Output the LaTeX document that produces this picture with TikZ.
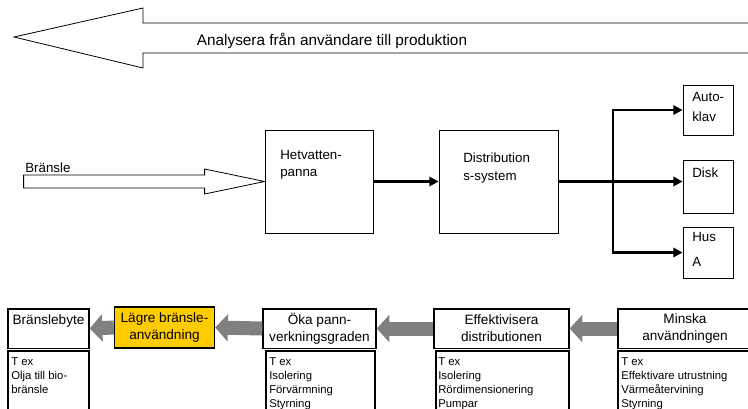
\documentclass[tikz,border=0pt]{standalone}
\usepackage{fontspec}
\setmainfont{Liberation Sans}
\usetikzlibrary{arrows.meta,fit}
\definecolor{backgray}{HTML}{808080}
\definecolor{lagreyellow}{HTML}{FFCC00}

\begin{document}
\begin{tikzpicture}[x=0.75pt,y=-0.75pt,
    box/.style={draw, line width=0.6pt, inner sep=0pt},
    stage/.style={draw, line width=1pt, inner sep=0pt, minimum height=29.5pt, align=center, font=\fontsize{10.2}{12.75}\selectfont},
    listbox/.style={draw, line width=1pt, inner sep=0pt},
    boxtext/.style={anchor=north west, inner sep=0pt, align=left, font=\fontsize{10}{13}\selectfont},
    listtext/.style={anchor=north west, inner sep=0pt, align=left, font=\fontsize{8.5}{10.5}\selectfont},
    flow/.style={line width=2.2pt, -{Triangle[length=7pt,width=7pt]}},
    back/.style={draw=backgray, line width=10.5pt, -{Triangle[length=9.5pt,width=20pt]}}]
  \useasboundingbox (0,0) rectangle (748,408);
  \clip (0,0) rectangle (748,408);
  % analysis direction
  \draw[line width=0.6pt] (14,37) -- (143,8) -- (143,23) -- (760,23) -- (760,53) -- (143,53) -- (143,68) -- cycle;
  \node[anchor=base, inner sep=0pt, font=\fontsize{11.5}{14}\selectfont] (title) at (332,45) {Analysera från användare till produktion};
  % system
  \node[box, fit={(265,130) (373,233)}] (panna) {};
  \node[box, fit={(439,130) (558,233)}] (dist) {};
  \node[box, fit={(683,85) (733,135)}] (auto) {};
  \node[box, fit={(683,160) (733,213)}] (disk) {};
  \node[box, fit={(683,227) (733,278)}] (hus) {};
  \node[boxtext] (pannatext) at (280,150) {Hetvatten-\\panna};
  \node[boxtext] (disttext) at (463,153) {Distribution\\s-system};
  \node[boxtext, font=\fontsize{10}{15}\selectfont] (autotext) at (692,92) {Auto-\\klav};
  \node[boxtext] (disktext) at (692,168) {Disk};
  \node[boxtext, font=\fontsize{10}{19}\selectfont] (hustext) at (692,232) {Hus\\A};
  % fuel in
  \draw[line width=0.6pt] (panna.west) -- ++(-60,-12.5) -- ++(0,6) -- ++(-181,0) -- ++(0,13) -- ++(181,0) -- ++(0,6) -- cycle;
  \node[anchor=base west, inner sep=0pt, font=\fontsize{10}{12}\selectfont] (fuel) at (25,172) {Bränsle};
  % flows
  \coordinate (split) at (613,0);
  \draw[flow] (panna.east) -- (dist.west);
  \draw[flow] (dist.east) -- (dist.east -| disk.west);
  \draw[flow] (dist.east -| split) |- (auto.west);
  \draw[flow] (dist.east -| split) |- (hus.west);
  % measures
  \node[stage, minimum width=60.75pt, text depth=13pt] (byte) at (48.5,328.5) {Bränslebyte};
  \node[stage, fill=lagreyellow, minimum width=75pt, minimum height=30.75pt] (lagre) at (164.5,327.5) {Lägre bränsle-\\användning};
  \node[stage, minimum width=84.75pt] (oka) at (319.5,328.5) {Öka pann-\\verkningsgraden};
  \node[stage, minimum width=101.25pt] (eff) at (501.5,328.5) {Effektivisera\\distributionen};
  \node[stage, minimum width=100.5pt] (minska) at (685,328.5) {Minska\\användningen};
  \draw[back] (lagre.west) -- (byte.east);
  \draw[back] (oka.west) -- (lagre.east);
  \draw[back] (eff.west) -- (oka.east);
  \draw[back] (minska.west) -- (eff.east);
  % examples
  \node[listbox, fit={(8,351) (89,420)}] (bytelist) {};
  \node[listbox, fit={(266,351) (375,420)}] (okalist) {};
  \node[listbox, fit={(436,351) (569,420)}] (efflist) {};
  \node[listbox, fit={(618,351) (752,420)}] (minskalist) {};
  \node[listtext] (bytetext) at (11,357) {T ex\\Olja till bio-\\bränsle};
  \node[listtext] (okatext) at (269,357) {T ex\\Isolering\\Förvärmning\\Styrning};
  \node[listtext] (efftext) at (438,357) {T ex\\Isolering\\Rördimensionering\\Pumpar};
  \node[listtext] (minskatext) at (621,357) {T ex\\Effektivare utrustning\\Värmeåtervining\\Styrning};
\end{tikzpicture}
\end{document}
